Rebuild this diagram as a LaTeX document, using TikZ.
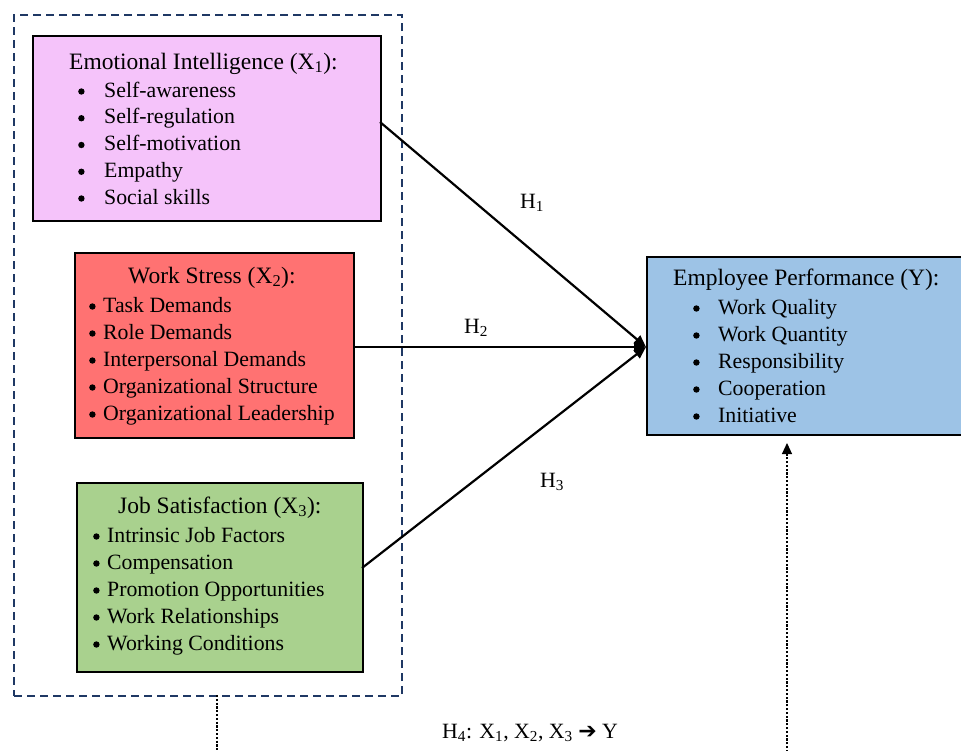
\documentclass[tikz,border=0pt]{standalone}
\usepackage{fontspec}
\setmainfont{Liberation Serif}
\newfontfamily\arrowfont{DejaVu Sans}
\usetikzlibrary{arrows.meta}
\definecolor{pinkfill}{RGB}{245,195,250}
\definecolor{redfill}{RGB}{255,114,114}
\definecolor{greenfill}{RGB}{169,209,142}
\definecolor{bluefill}{RGB}{157,195,230}
\definecolor{navy}{RGB}{31,56,100}
\tikzset{
  box/.style={draw=black, line width=2.2pt, rectangle, anchor=north west, inner sep=0pt},
  ttl/.style={anchor=base west, inner sep=0pt, font=\fontsize{23.5}{27}\selectfont},
  itm/.style={anchor=base west, inner sep=0pt, font=\fontsize{21.8}{27}\selectfont},
  hlab/.style={anchor=base west, inner sep=0pt, font=\fontsize{21.8}{27}\selectfont},
  link/.style={line width=2.2pt, -{Triangle[length=12pt,width=10pt]}},
  dots/.style={line width=1.1pt, dash pattern=on 2.2pt off 1.6pt},
}
\newcommand{\blt}[2]{\makebox[#1pt][l]{\tikz[baseline=-5.5pt]\fill[black] (0,0) circle (3.2pt);}#2}
\begin{document}
\begin{tikzpicture}[x=1pt,y=-1pt]
\useasboundingbox (0,0) rectangle (961,750);
\clip (0,0) rectangle (961,750);
% outer dashed box
\node[draw=navy, line width=2.2pt, dash pattern=on 8pt off 5pt, rectangle, anchor=north west, inner sep=0pt, minimum width=388pt, minimum height=681pt] (grp) at (13,14) {};
% X1
\node[box, fill=pinkfill, minimum width=348pt, minimum height=185pt] (x1) at (32,35) {};
\node[ttl] (x1t) at (69,69) {Emotional Intelligence (X\textsubscript{1}):};
\node[itm] (x1a) at (78,97) {\blt{26}{Self-awareness}};
\node[itm] (x1b) at (78,123.75) {\blt{26}{Self-regulation}};
\node[itm] (x1c) at (78,150.5) {\blt{26}{Self-motivation}};
\node[itm] (x1d) at (78,177.25) {\blt{26}{Empathy}};
\node[itm] (x1e) at (78,204) {\blt{26}{Social skills}};
% X2
\node[box, fill=redfill, minimum width=279pt, minimum height=185pt] (x2) at (74,252) {};
\node[ttl] (x2t) at (128,283) {Work Stress (X\textsubscript{2}):};
\node[itm] (x2a) at (89,312) {\blt{14}{Task Demands}};
\node[itm] (x2b) at (89,339) {\blt{14}{Role Demands}};
\node[itm] (x2c) at (89,366) {\blt{14}{Interpersonal Demands}};
\node[itm] (x2d) at (89,393) {\blt{14}{Organizational Structure}};
\node[itm] (x2e) at (89,420) {\blt{14}{Organizational Leadership}};
% X3
\node[box, fill=greenfill, minimum width=286pt, minimum height=189pt] (x3) at (76,482) {};
\node[ttl] (x3t) at (118,513) {Job Satisfaction (X\textsubscript{3}):};
\node[itm] (x3a) at (93,542) {\blt{14}{Intrinsic Job Factors}};
\node[itm] (x3b) at (93,569) {\blt{14}{Compensation}};
\node[itm] (x3c) at (93,596) {\blt{14}{Promotion Opportunities}};
\node[itm] (x3d) at (93,623) {\blt{14}{Work Relationships}};
\node[itm] (x3e) at (93,650) {\blt{14}{Working Conditions}};
% Y
\node[box, fill=bluefill, minimum width=340pt, minimum height=178pt] (yb) at (646,256) {};
\node[ttl] (yt) at (673,285) {Employee Performance (Y):};
\node[itm] (ya) at (693,314) {\blt{25}{Work Quality}};
\node[itm] (yb1) at (693,341) {\blt{25}{Work Quantity}};
\node[itm] (yc) at (693,368) {\blt{25}{Responsibility}};
\node[itm] (yd) at (693,395) {\blt{25}{Cooperation}};
\node[itm] (ye) at (693,422) {\blt{25}{Initiative}};
% connectors
\coordinate (x1o) at (380,122);
\coordinate (x2o) at (353,347);
\coordinate (x3o) at (362,568);
\coordinate (yin) at (646,347);
\draw[link] (x1o) -- (yin);
\draw[link] (x2o) -- (yin);
\draw[link] (x3o) -- (yin);
\node[hlab] (h1) at (520,208) {H\textsubscript{1}};
\node[hlab] (h2) at (464,333) {H\textsubscript{2}};
\node[hlab] (h3) at (540,487) {H\textsubscript{3}};
% H4
\coordinate (gbot) at (217,695);
\coordinate (gend) at (217,752);
\coordinate (ybot) at (787,752);
\coordinate (ytop) at (787,443);
\draw[dots] (gbot) -- (gend);
\draw[dots, -{Triangle[length=11pt,width=10pt]}] (ybot) -- (ytop);
\node[hlab] (h4) at (442,738) {H\textsubscript{4}: X\textsubscript{1}, X\textsubscript{2}, X\textsubscript{3} {\arrowfont\fontsize{22}{27}\selectfont\char"2794} Y};
\end{tikzpicture}
\end{document}
